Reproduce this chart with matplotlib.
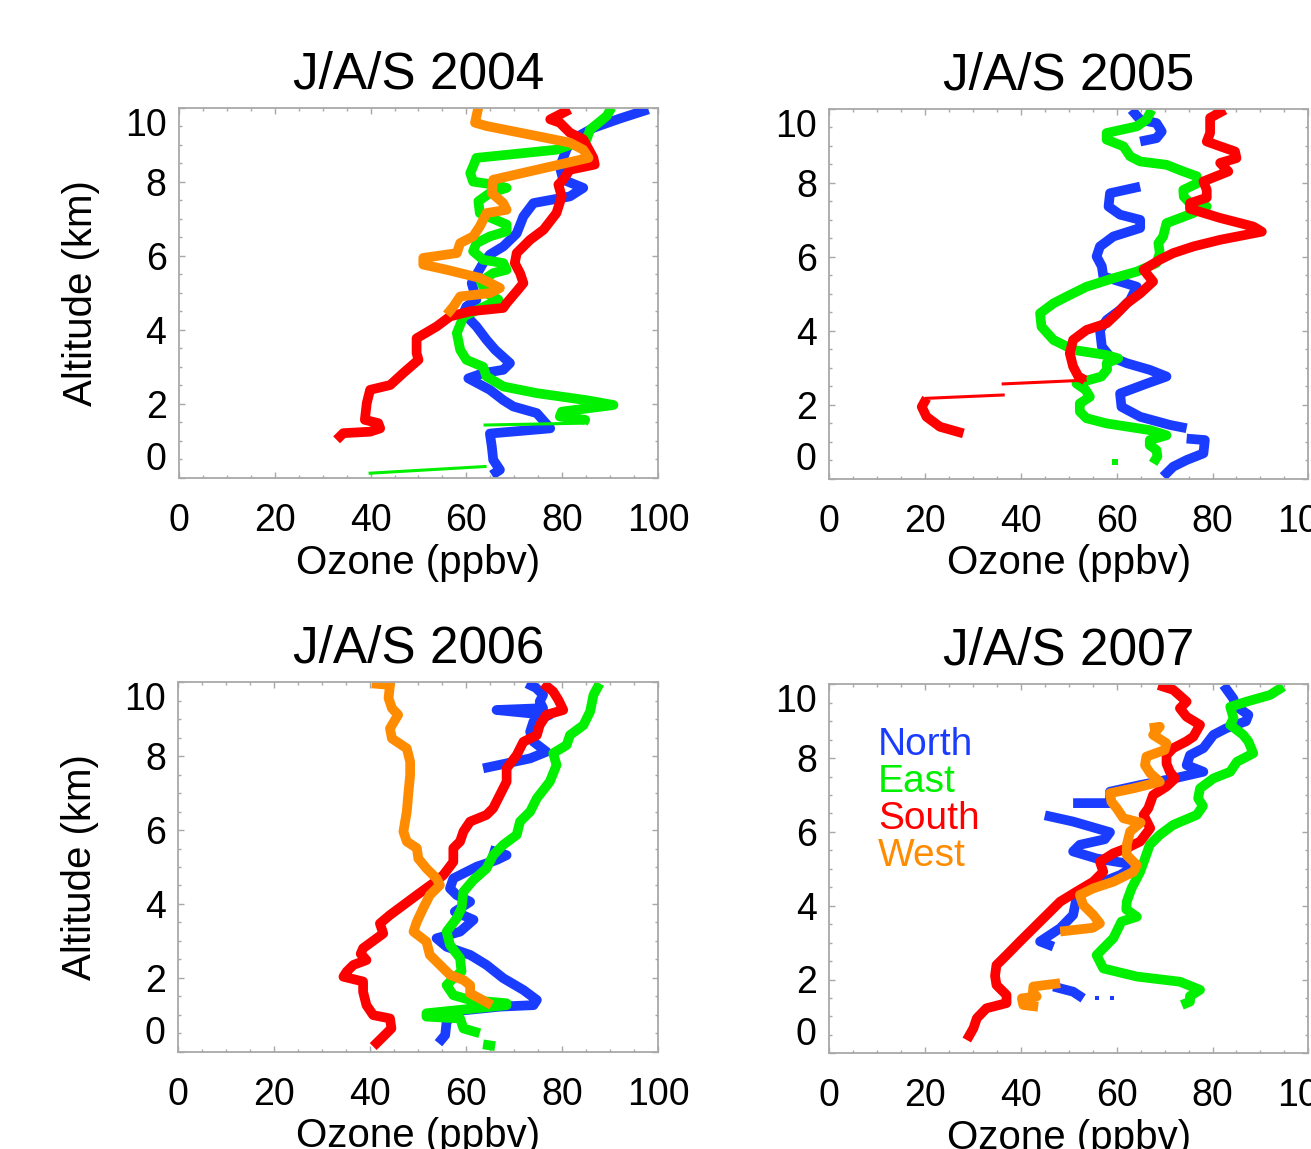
import numpy as np
import matplotlib
matplotlib.use('Agg')
import matplotlib.pyplot as plt
from matplotlib.ticker import MultipleLocator

nan = np.nan

# ------------------------------------------------------------------------------
# Perfiles de ozono (ppbv) vs altitud (km)
titulos = ['J/A/S 2004', 'J/A/S 2005', 'J/A/S 2006', 'J/A/S 2007']
regiones = ['North', 'East', 'South', 'West']
colores = {'North': '#1a3cff', 'East': '#00f000', 'South': '#ff0000', 'West': '#ff8c00'}

# --- 2004
n04_alt = [0.08, 0.22, 0.49, 0.85, 1.2, 1.34, 1.75, 1.93, 2.1, 2.38, 2.69, 2.83, 2.92, 3.1, 3.46,
           3.73, 4.09, 4.45, 4.63, 4.81, 5.26, 5.8, 6.03, 6.25, 6.6, 7.06, 7.42, 7.6, 7.83, 8.05,
           8.4, 8.9, 9.2, 9.45, 9.7, 9.95]
n04_o3 = [65.3, 67, 65.6, 65.3, 64.9, 77.5, 74.7, 69.8, 67.7, 64.9, 60.4, 63.5, 67.7, 69.1, 66,
          64.2, 62.1, 59.4, 60, 62.1, 61.1, 63.5, 64.9, 67.7, 70.5, 71.9, 74, 81.6, 84.4, 80.2,
          79.5, 81, 83, 86.5, 92, 98]
e04_alt = [1.48, 1.57, 1.66, 1.79, 1.97, 2.1, 2.29, 2.47, 2.74, 3.0, 3.19, 3.46, 3.91, 4.36, 4.81,
           4.99, 5.3, 5.53, 5.62, 5.8, 5.89, 6.12, 6.34, 6.52, 6.66, 6.84, 7.15, 7.47, 7.69, 7.83,
           7.92, 8.0, 8.23, 8.41, 8.64, 8.86, 9.14, 9.4, 9.77, 10.0]
e04_o3 = [84.4, 84.8, 79.5, 79.9, 90.7, 85.1, 74.7, 67.7, 64.2, 63.5, 60, 58.7, 58, 59.4, 66.7,
          64.2, 63, 65.6, 68.4, 67.7, 63.5, 61.4, 62.1, 64.9, 68.4, 68.4, 62.8, 62.5, 64.9, 68.4,
          65.6, 61.4, 60.8, 61.4, 62.1, 78.8, 85.1, 85.8, 89.3, 90.3]
e04_thin_alt = [0.31, 0.13, nan, 1.43, 1.48]
e04_thin_o3 = [63.9, 39.9, nan, 63.9, 84.4]
s04_alt = [1.03, 1.21, 1.25, 1.34, 1.48, 1.57, 2.02, 2.38, 2.51, 2.83, 3.19, 3.37, 3.77, 4.09,
           4.36, 4.5, 4.59, 4.72, 5.04, 5.26, 5.53, 5.8, 6.07, 6.43, 6.7, 7.15, 7.6, 7.92, 8.05,
           8.32, 8.46, 8.64, 9.14, 9.32, 9.59, 9.68, 9.95]
s04_o3 = [32.9, 34.3, 39.9, 42, 41.6, 38.8, 39.2, 39.9, 44.1, 46.8, 50, 49.6, 49.6, 53.8, 56.6,
          60.8, 67.7, 68.4, 70.5, 71.9, 71.2, 70.1, 70.5, 73.3, 76.1, 78.8, 79.9, 79.2, 80.2,
          81.6, 86.8, 86.5, 84.4, 81.6, 79.5, 77.5, 81.6]
w04_alt = [4.41, 4.63, 4.9, 4.99, 5.13, 5.4, 5.62, 5.76, 5.94, 6.07, 6.34, 6.52, 6.79, 7.15, 7.24,
           7.42, 7.69, 8.05, 8.32, 8.64, 8.86, 9.05, 9.23, 9.5, 9.59, 9.77, 10.0]
w04_o3 = [55.9, 57.3, 58.7, 64.9, 67, 62.8, 55.9, 51, 51, 58, 58.7, 61.4, 62.8, 64.2, 68.4,
          67.7, 65.3, 65.6, 74.7, 85.5, 84.4, 81.6, 74.7, 64.2, 61.8, 62.1, 62.5]

# --- 2005
n05_alt = [0.05, 0.32, 0.5, 0.68, 1.04, 1.08, nan, 1.36, 1.45, 1.67, 1.94, 2.3, 2.57, 2.76, 2.94,
           3.12, 3.3, 3.57, 4.02, 4.29, 4.56, 4.83, 5.19, 5.33, 5.47, 5.74, 6.01, 6.28, 6.55,
           6.78, 7.0, 7.14, 7.36, 7.72, 7.9, nan, 9.12, 9.21, 9.39, 9.62, 9.71, 9.98]
n05_o3 = [69.7, 71.8, 74.6, 78.1, 78.4, 74.6, nan, 74.6, 71.1, 64.9, 61, 60.7, 66.3, 70.4, 66.9,
          62.1, 58.6, 56.9, 56.5, 57.9, 60.7, 62.8, 64.2, 60.7, 57.2, 56.9, 55.8, 56.5, 59.3,
          64.9, 64.9, 60.7, 58.3, 58.6, 64.9, nan, 64.9, 68.3, 69.4, 68.3, 64.9, 63.1]
e05_alt = [0.41, 0.6, 0.77, 0.9, 1.04, 1.17, 1.31, 1.49, 1.63, 1.81, 2.03, 2.21, 2.4, 2.57, 2.76,
           2.95, 3.12, 3.25, 3.34, 3.48, 3.75, 4.11, 4.47, 4.74, 4.92, 5.19, 5.42, 5.6, 5.83, 6.1,
           6.37, 6.55, 6.91, 7.18, 7.36, 7.45, 7.63, 7.81, 8.0, 8.18, 8.31, 8.49, 8.58, 8.72,
           8.99, 9.17, 9.35, 9.53, 9.71, 9.98]
e05_o3 = [67.6, 68.5, 68.3, 66.9, 66.9, 70.4, 66.9, 57.9, 53.7, 52.3, 52.3, 54.4, 53.5, 51.6, 56.8,
          58, 57.9, 60.3, 57.9, 51, 46.8, 44.3, 44, 46.8, 49.5, 53.7, 59.3, 64.2, 68.3, 69,
          68.7, 69.7, 70.4, 75.9, 78.8, 75.3, 74, 73.9, 77, 76.7, 73.9, 70.4, 64.9, 62.8,
          61.4, 57.9, 57.9, 64.2, 66.2, 67.3]
e05_dot_alt = [0.45]
e05_dot_o3 = [59.6]
s05_alt = [1.22, 1.4, 1.67, 1.94, 2.17, nan, 2.66, 2.76, 3.03, 3.39, 3.75, 4.02, 4.2, 4.47, 4.74,
           5.01, 5.33, 5.65, 5.92, 6.1, 6.28, 6.46, 6.68, 6.82, 7.05, 7.3, 7.45, 7.6, 7.81, 8.04,
           8.31, 8.54, 8.67, 8.85, 8.99, 9.12, 9.35, 9.76, 9.98]
s05_o3 = [28, 23.1, 20.3, 19.3, 20.3, nan, 53.4, 52, 50.9, 50.2, 50.9, 53.7, 57.9, 60.1, 62.1,
          64.9, 67.6, 65.6, 69, 71.8, 76, 81.6, 90.3, 88.5, 81.6, 75.3, 75.3, 78.8, 78.8, 78.1,
          83.3, 81.6, 85, 84.7, 81.6, 78.8, 79.5, 79.5, 82.6]
s05_thin_alt = [2.17, 2.26, nan, 2.56, 2.66]
s05_thin_o3 = [20.3, 36.3, nan, 36.3, 53.4]

# --- 2006
n06_alt = [0.23, 0.45, 0.81, 1.1, 1.22, 1.26, 1.4, 1.67, 1.99, 2.35, 2.62, 2.84, 3.07, 3.25, 3.57,
           3.79, 4.06, 4.24, 4.42, 4.69, 5.01, 5.19, 5.32, 5.46, nan, 7.67, 7.94, 8.12, 8.39,
           8.66, 8.94, 9.12, 9.16, 9.25, 9.3, 9.48, 9.66, 9.85, 9.97]
n06_o3 = [54.2, 55.6, 55.9, 58, 67, 74, 74.7, 71.9, 67.7, 64.2, 60.8, 55.9, 53.8, 58.7, 61.5,
          57.6, 60.8, 58, 56.6, 57.3, 62.2, 66.3, 68.4, 64.9, nan, 63.5, 73.3, 76.7, 74,
          73.3, 74, 77.4, 73.3, 66.3, 76, 75.3, 76, 74.5, 72.6]
e06_alt = [0.2, 0.15, nan, 0.5, 0.63, 0.9, 0.95, 1.04, 1.26, 1.31, 1.4, 1.53, 1.8, 1.99, 2.17,
           2.53, 2.89, 3.25, 3.61, 3.88, 4.33, 4.65, 4.96, 5.32, 5.6, 5.87, 6.23, 6.5, 6.86, 7.31,
           7.76, 8.08, 8.3, 8.57, 8.84, 9.21, 9.66, 9.97]
e06_o3 = [63.5, 66.0, nan, 62.8, 59.4, 58.7, 51.7, 51.7, 68.4, 68.4, 60.8, 57.3, 55.9, 57.3, 59,
          58.7, 56.6, 55.9, 58, 59, 59.4, 61.5, 64.2, 65.6, 67.7, 70.5, 71.2, 73.3, 74.7, 77.4,
          78.8, 78.1, 80.9, 81.6, 84.4, 85.8, 86.5, 87.8]
s06_alt = [0.14, 0.41, 0.63, 0.9, 0.99, 1.26, 1.62, 1.9, 2.03, 2.17, 2.35, 2.48, 2.65, 2.8, 3.2,
           3.47, 3.7, 3.97, 4.24, 4.56, 4.78, 5.14, 5.51, 5.69, 5.96, 6.23, 6.41, 6.59, 6.95,
           7.31, 7.67, 8.03, 8.39, 8.57, 8.84, 9.12, 9.25, 9.52, 9.75, 9.97]
s06_o3 = [40.6, 42.7, 44.4, 44.1, 40.6, 39.2, 38.5, 38.5, 34.4, 35.1, 36.5, 39.2, 38, 38.5, 42.7,
          42, 44.1, 46.9, 49.7, 53.1, 55.2, 57.3, 57.3, 58.7, 59.4, 60.8, 64.2, 65.6, 67,
          68.4, 68.4, 70.5, 71.9, 74.7, 75.3, 76.7, 80.2, 79.2, 78.1, 76]
w06_alt = [1.26, 1.44, 1.58, 1.8, 1.94, 2.08, 2.35, 2.62, 2.98, 3.25, 3.52, 3.88, 4.24, 4.51, 4.69,
           4.96, 5.23, 5.51, 5.69, 5.96, 6.5, 6.95, 7.49, 7.85, 8.21, 8.48, 8.75, 9.12, 9.3, 9.57,
           9.93, 9.97]
w06_o3 = [65.3, 62.8, 60.8, 60.8, 59.4, 56.6, 54.5, 52.4, 51.7, 49, 49.7, 51, 52.4, 54.5, 53.8,
          51.7, 50, 49.7, 47.6, 46.9, 47.6, 47.9, 48.3, 48.3, 47.6, 44.5, 44.1, 45.8, 44.5, 43.8,
          44.1, 40.3]

# --- 2007
n07_alt = [1.81, 1.75, 1.67, 1.49, nan, 2.89, 3.03, 3.21, 3.39, 3.75, 4.2, 4.47, 4.83, 5.1, 5.28,
           5.47, 5.65, 5.8, 5.99, 6.28, 6.45, nan, 6.78, 6.78, 7.09, 7.27, 7.45, 7.63, 7.81,
           8.08, 8.27, 8.63, 8.81, 9.0, 9.17, 9.4, 9.62, 9.98]
n07_o3 = [46.8, 48.5, 50.9, 53, nan, 46.8, 44, 46.1, 48.2, 50.9, 51.6, 53.7, 60.7, 64.2, 55.8,
          50.9, 52.3, 57.5, 58.6, 50.9, 45, nan, 50.9, 58.6, 58.6, 64.9, 72, 78.1, 74.6,
          75.3, 78.1, 80.2, 82.9, 87, 87.5, 85, 84.3, 82.3]
n07_dot_alt = [1.49, 1.49]
n07_dot_o3 = [55.8, 59.0]
e07_alt = [1.31, 1.4, 1.55, 1.72, 1.94, 2.08, 2.3, 2.66, 3.12, 3.57, 3.7, 3.9, 4.11, 4.47, 4.92,
           5.28, 5.65, 5.92, 6.19, 6.46, 6.7, 6.91, 7.18, 7.45, 7.63, 7.9, 8.13, 8.45, 8.63, 8.9,
           9.08, 9.39, 9.53, 9.71, 9.94]
e07_o3 = [73.6, 75.3, 75.3, 77.4, 73.2, 64.2, 57.2, 55.8, 59.3, 61, 64.2, 62, 62.1, 63.1, 64.9,
          65.9, 66.9, 69, 71.8, 76.7, 78, 77, 77.4, 80.2, 83.7, 85.1, 88.5, 87.5, 86.4, 83.7,
          84.4, 83.7, 87.1, 92, 94.8]
s07_alt = [0.36, 0.68, 0.95, 1.22, 1.36, 1.58, 1.85, 2.1, 2.39, 2.66, 3.03, 3.39, 3.75, 4.11,
           4.38, 4.65, 4.92, 5.19, 5.42, 5.56, 5.74, 6.1, 6.46, 6.64, 7.0, 7.23, 7.45, 7.63, 7.85,
           8.08, 8.27, 8.45, 8.58, 8.9, 9.12, 9.35, 9.53, 9.85, 9.98]
s07_o3 = [28.7, 30.1, 30.8, 32.8, 37, 37, 34.9, 34.6, 34.9, 37, 39.8, 42.6, 45.4, 48.2,
          51.6, 55.1, 57.2, 56.5, 59.3, 62.1, 64.9, 67, 65.6, 66.6, 67.6, 70.4, 72.2, 71.1, 70.4,
          70.4, 71.8, 74.5, 76, 77.4, 74.6, 73.2, 74.6, 71.8, 68.7]
w07_alt = [1.26, 1.31, 1.49, 1.54, 1.65, 1.81, 1.9, nan, 3.3, 3.4, 3.52, 3.75, 4.02, 4.29, 4.47,
           4.65, 4.92, 5.1, 5.37, 5.65, 6.01, 6.25, 6.37, 6.64, 6.82, 7.05, 7.18, 7.36, 7.59,
           7.81, 8.04, 8.22, 8.4, 8.63, 8.85, 8.81]
w07_o3 = [43.6, 40.5, 40.2, 43.3, 42.5, 42.6, 48.2, nan, 48.2, 55, 56.5, 55.1, 53, 52.3, 55.1,
          59.3, 63.5, 64.2, 62.1, 62.1, 62.8, 65, 61.4, 60, 58.9, 58.6, 63.5, 69, 67,
          65.9, 66.2, 70, 70.4, 67.6, 69, 66.9]

perfiles = [
    {'North': (n04_o3, n04_alt), 'East': (e04_o3, e04_alt),
     'South': (s04_o3, s04_alt), 'West': (w04_o3, w04_alt)},
    {'North': (n05_o3, n05_alt), 'East': (e05_o3, e05_alt),
     'South': (s05_o3, s05_alt)},
    {'North': (n06_o3, n06_alt), 'East': (e06_o3, e06_alt),
     'South': (s06_o3, s06_alt), 'West': (w06_o3, w06_alt)},
    {'North': (n07_o3, n07_alt), 'East': (e07_o3, e07_alt),
     'South': (s07_o3, s07_alt), 'West': (w07_o3, w07_alt)},
]
# saltos horizontales (trazo fino) y puntos sueltos
saltos = [{'East': (e04_thin_o3, e04_thin_alt)}, {'South': (s05_thin_o3, s05_thin_alt)}, {}, {}]
puntos = [{}, {'East': (e05_dot_o3, e05_dot_alt)}, {}, {'North': (n07_dot_o3, n07_dot_alt)}]

# ------------------------------------------------------------------------------
plt.rcParams['font.family'] = ['Liberation Sans', 'DejaVu Sans']
W, H = 1311, 1149
fig = plt.figure(figsize=(W / 100, H / 100), dpi=100)

# cajas de los ejes en pixeles: (izq, arriba, der, abajo)
cajas = [(179, 107.5, 658, 478), (829.3, 109, 1308.3, 478.5),
         (178.3, 682.3, 658.3, 1051.7), (829.3, 684.3, 1308.3, 1053.3)]
gris = '#a8a8a8'

for k, (x0, y0, x1, y1) in enumerate(cajas):
    ax = fig.add_axes([x0 / W, 1 - y1 / H, (x1 - x0) / W, (y1 - y0) / H])

    for reg in regiones:
        if reg in perfiles[k]:
            o3, alt = perfiles[k][reg]
            ax.plot(o3, alt, color=colores[reg], lw=7, solid_joinstyle='round',
                    solid_capstyle='butt')
        if reg in saltos[k]:
            o3, alt = saltos[k][reg]
            ax.plot(o3, alt, color=colores[reg], lw=2.2)
        if reg in puntos[k]:
            o3, alt = puntos[k][reg]
            ax.plot(o3, alt, 's', color=colores[reg], ms=4 if k == 1 else 2.5, mew=0)

    ax.set_xlim(0, 100)
    ax.set_ylim(0, 10)
    ax.xaxis.set_minor_locator(MultipleLocator(5))
    ax.yaxis.set_minor_locator(MultipleLocator(0.5))
    ax.set_xticks([0, 20, 40, 60, 80, 100])
    ax.set_yticks([0, 2, 4, 6, 8, 10], ['0', '2', '4', '6', '8', '10'])
    ax.tick_params(which='both', direction='in', top=True, right=True, color=gris,
                   width=1.0, labelsize=27)
    ax.tick_params(which='major', length=4)
    ax.tick_params(which='minor', length=2.5)
    ax.tick_params(axis='x', pad=18)
    ax.tick_params(axis='y', pad=9)
    yl = ax.get_yticklabels()
    yl[0].set_va('bottom')
    yl[-1].set_va('top')
    for sp in ax.spines.values():
        sp.set_color(gris)
        sp.set_linewidth(1.3)

    ax.set_title(titulos[k], fontsize=37, pad=14)
    ax.set_xlabel('Ozone (ppbv)', fontsize=29)
    ax.xaxis.set_label_coords(0.5, -0.178)
    if k % 2 == 0:
        ax.set_ylabel('Altitude (km)', fontsize=29)
        ax.yaxis.set_label_coords(-0.165, 0.5)

    if k == 3:
        for j, reg in enumerate(regiones):
            ax.text(10.2, 8.35 - j, reg, color=colores[reg], fontsize=28,
                    ha='left', va='center')

fig.savefig('out.png', dpi=100)
